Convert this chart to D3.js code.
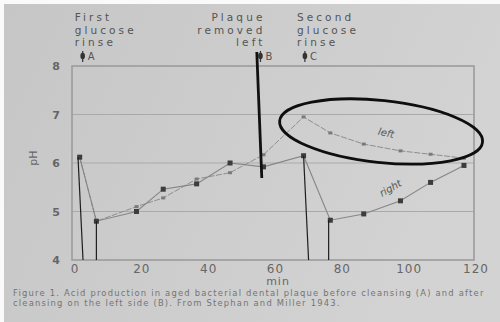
<!DOCTYPE html>
<html>
<head>
<meta charset="utf-8">
<script src="https://cdn.jsdelivr.net/npm/d3@7"></script>
<style>
  body { margin: 0; background: #fff; }
  svg { display: block; }
</style>
</head>
<body>
<svg id="chart" width="500" height="322"></svg>
<script>
// minutes after the first rinse
const minutes = [2, 7, 19, 27, 37, 47, 57, 69, 77, 87, 98, 107, 117];
// pH, left side (plaque removed) and right side
const leftPh = [6.12, 4.8, 5.1, 5.28, 5.67, 5.8, 6.17, 6.95, 6.62, 6.39, 6.25, 6.18, 6.1];
const rightPh = [6.12, 4.8, 5.0, 5.46, 5.57, 6.0, 5.92, 6.15, 4.82, 4.95, 5.22, 5.6, 5.95];
const xTicks = [0, 20, 40, 60, 80, 100, 120];
const yTicks = [4, 5, 6, 7, 8];
const gridValues = [5, 6, 7];
// drop lines under the rinse points: [from minute, pH, to minute]
const dropLines = [[1.5, 6.12, 3], [7, 4.8, 7], [69, 6.15, 70.5], [76.5, 4.82, 76.5]];
const events = [
  { t: 2, lines: ['First', 'glucose', 'rinse'], letter: 'A', anchor: 'start' },
  { t: 55.2, lines: ['Plaque', 'removed', 'left'], letter: 'B', anchor: 'end' },
  { t: 68.5, lines: ['Second', 'glucose', 'rinse'], letter: 'C', anchor: 'start' },
];
const captionLines = [
  'Figure 1. Acid production in aged bacterial dental plaque before cleansing (A) and after',
  'cleansing on the left side (B). From Stephan and Miller 1943.',
];

const svg = d3.select('#chart');
const font = 'DejaVu Sans, sans-serif';

// photographed page background
const defs = svg.append('defs');
const bg = defs.append('linearGradient').attr('id', 'paper').attr('x1', 0).attr('x2', 1).attr('y1', 0).attr('y2', 0.3);
bg.append('stop').attr('offset', '0%').attr('stop-color', '#c6c6c6');
bg.append('stop').attr('offset', '100%').attr('stop-color', '#d3d3d3');
svg.append('rect').attr('width', 500).attr('height', 322).attr('fill', '#fafafa');
svg.append('rect').attr('x', 4).attr('y', 4).attr('width', 496).attr('height', 318).attr('fill', 'url(#paper)');

const x = d3.scaleLinear().domain([0, 120]).range([73, 474]);
const y = d3.scaleLinear().domain([4, 8]).range([260, 66]);

// grid lines
svg.append('g').selectAll('line').data(gridValues).join('line')
  .attr('x1', x(-0.3)).attr('x2', x(120))
  .attr('y1', d => y(d)).attr('y2', d => y(d))
  .attr('stroke', '#a9a9a9').attr('stroke-width', 1.2);

// frame
svg.append('rect')
  .attr('x', x(-0.3)).attr('y', y(8))
  .attr('width', x(120) - x(-0.3)).attr('height', y(4) - y(8))
  .attr('fill', 'none').attr('stroke', '#9c9c9c').attr('stroke-width', 1.6);

// tick labels
svg.append('g').selectAll('text').data(yTicks).join('text')
  .attr('x', 60).attr('y', d => y(d) + 4)
  .attr('text-anchor', 'end')
  .attr('font-family', font).attr('font-size', 11).attr('font-weight', 'bold')
  .attr('fill', '#666')
  .text(d => d);

svg.append('g').selectAll('text').data(xTicks).join('text')
  .attr('x', d => x(d) + 2).attr('y', 273)
  .attr('text-anchor', 'middle')
  .attr('font-family', font).attr('font-size', 12)
  .attr('letter-spacing', 1)
  .attr('fill', '#666')
  .text(d => d);

svg.append('text')
  .attr('x', 278).attr('y', 285)
  .attr('text-anchor', 'middle')
  .attr('font-family', font).attr('font-size', 11)
  .attr('letter-spacing', 1)
  .attr('fill', '#666')
  .text('min');

svg.append('text')
  .attr('transform', `translate(37,${y(6.1)}) rotate(-90)`)
  .attr('text-anchor', 'middle')
  .attr('font-family', font).attr('font-size', 11)
  .attr('fill', '#666')
  .text('pH');

// series
const line = d3.line().x(d => x(d[0])).y(d => y(d[1]));
const leftPts = minutes.map((t, i) => [t, leftPh[i]]);
const rightPts = minutes.map((t, i) => [t, rightPh[i]]);

svg.append('path').datum(leftPts).attr('d', line)
  .attr('fill', 'none').attr('stroke', '#8e8e8e').attr('stroke-width', 1)
  .attr('stroke-dasharray', '6,1.5');
svg.append('path').datum(rightPts).attr('d', line)
  .attr('fill', 'none').attr('stroke', '#858585').attr('stroke-width', 1.1);

svg.append('g').selectAll('rect').data(leftPts).join('rect')
  .attr('x', d => x(d[0]) - 2).attr('y', d => y(d[1]) - 1.5)
  .attr('width', 4).attr('height', 3)
  .attr('fill', '#7a7a7a');
svg.append('g').selectAll('rect').data(rightPts).join('rect')
  .attr('x', d => x(d[0]) - 2.5).attr('y', d => y(d[1]) - 2.5)
  .attr('width', 5).attr('height', 5)
  .attr('fill', '#3c3c3c');

// drop lines
svg.append('g').selectAll('line').data(dropLines).join('line')
  .attr('x1', d => x(d[0])).attr('y1', d => y(d[1]))
  .attr('x2', d => x(d[2])).attr('y2', y(4))
  .attr('stroke', '#1e1e1e').attr('stroke-width', 1.2);

// series names
svg.append('text')
  .attr('transform', `translate(${x(93.5)},${y(6.55)}) rotate(12)`)
  .attr('text-anchor', 'middle')
  .attr('font-family', font).attr('font-size', 10).attr('font-style', 'italic')
  .attr('fill', '#555')
  .text('left');
svg.append('text')
  .attr('transform', `translate(${x(95.5)},${y(5.42)}) rotate(-30)`)
  .attr('text-anchor', 'middle')
  .attr('font-family', font).attr('font-size', 10).attr('font-style', 'italic')
  .attr('fill', '#555')
  .text('right');

// event labels and arrows
const ev = svg.append('g').selectAll('g').data(events).join('g')
  .attr('transform', d => `translate(${x(d.t)},0)`);
ev.each(function (d) {
  const g = d3.select(this);
  d.lines.forEach((s, i) => {
    g.append('text')
      .attr('x', d.anchor === 'end' ? 8 : -5).attr('y', 21 + i * 12.6)
      .attr('text-anchor', d.anchor)
      .attr('font-family', font).attr('font-size', 10.5).attr('letter-spacing', 3.1)
      .attr('fill', '#545454')
      .text(s);
  });
  g.append('line').attr('x1', 3).attr('x2', 3).attr('y1', 51).attr('y2', 62)
    .attr('stroke', '#333').attr('stroke-width', 1.2);
  g.append('ellipse').attr('cx', 3).attr('cy', 56).attr('rx', 2.3).attr('ry', 3.2).attr('fill', '#333');
  g.append('text').attr('x', 8).attr('y', 60)
    .attr('font-family', font).attr('font-size', 10)
    .attr('fill', '#555')
    .text(d.letter);
});

// hand-drawn marks
svg.append('line')
  .attr('x1', x(55)).attr('y1', 52).attr('x2', x(56.5)).attr('y2', 178)
  .attr('stroke', '#111').attr('stroke-width', 2.8);
svg.append('ellipse')
  .attr('transform', `translate(${x(92.2)},${y(6.65)}) rotate(6)`)
  .attr('rx', 102).attr('ry', 31)
  .attr('fill', 'none').attr('stroke', '#0e0e0e').attr('stroke-width', 2.8);

// caption
svg.append('g').selectAll('text').data(captionLines).join('text')
  .attr('x', 13).attr('y', (d, i) => 296 + i * 10)
  .attr('font-family', font).attr('font-size', 8.4).attr('letter-spacing', 1.2)
  .attr('fill', '#747474')
  .text(d => d);
</script>
</body>
</html>
